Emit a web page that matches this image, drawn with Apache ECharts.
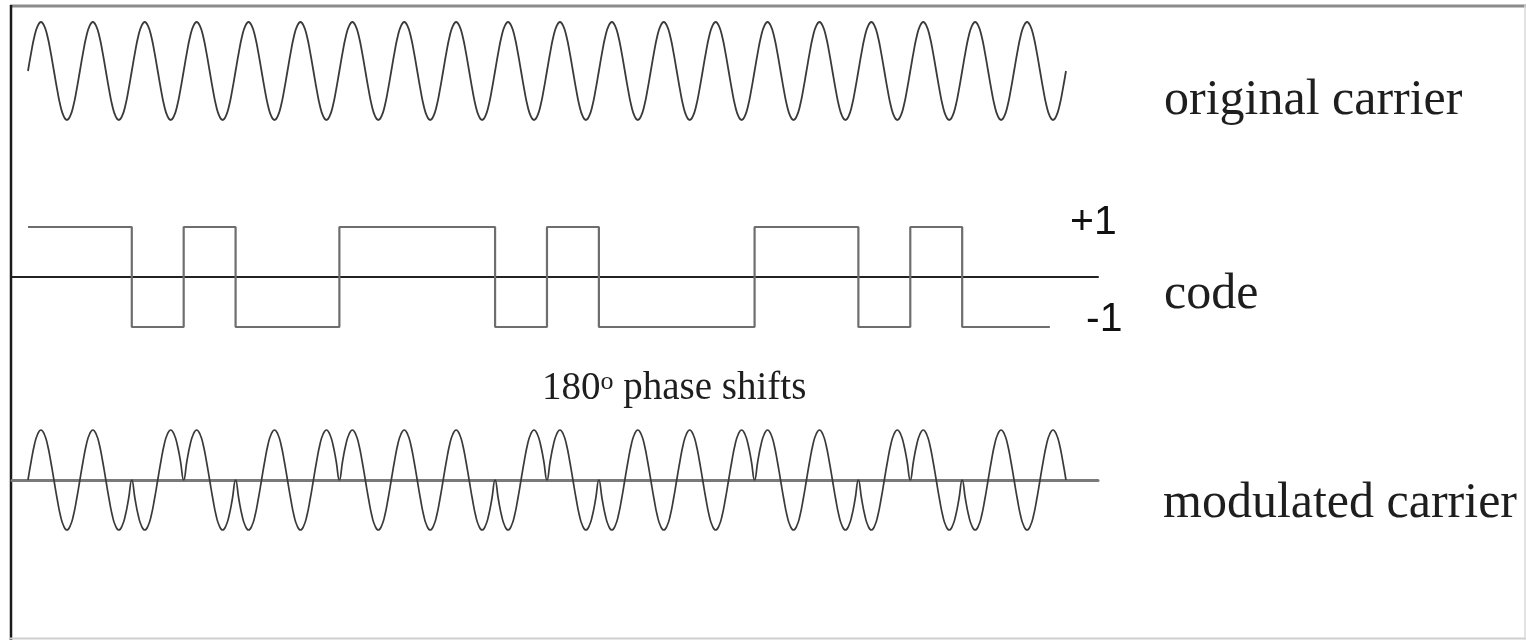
<!DOCTYPE html>
<html>
<head>
<meta charset="utf-8">
<script src="https://cdn.jsdelivr.net/npm/echarts@6/dist/echarts.min.js"></script>
<style>
  html, body { margin: 0; padding: 0; background: #ffffff; }
  #chart { width: 1526px; height: 640px; }
</style>
</head>
<body>
<div id="chart"></div>
<script>
// ---- data ----
// number of carrier periods shown (one code chip = one carrier period)
const cycles = 20;
// one period of the carrier, sampled at 16 points (normalised amplitude)
const carrierCycle = [0, 0.38, 0.71, 0.92, 1, 0.92, 0.71, 0.38, 0, -0.38, -0.71, -0.92, -1, -0.92, -0.71, -0.38];
// code chips (+1 / -1), one per carrier period
const codeChips = [1, 1, -1, 1, -1, -1, 1, 1, 1, -1, 1, -1, -1, -1, 1, 1, -1, 1, -1, -1];
// where the drawn code line stops (in chip units)
const codeEnd = 19.69;
// texts
const panelLabels = ['original carrier', 'code', 'modulated carrier'];
const levelLabels = ['+1', '-1'];
const shiftLabel = ['180', 'o', ' phase shifts'];

// ---- build series data from the arrays ----
const n = carrierCycle.length;
const carrierData = [];
const modData = [];
for (let i = 0; i < cycles; i++) {
  for (let j = 0; j < n; j++) {
    carrierData.push([i + j / n, carrierCycle[j]]);
    modData.push([i + j / n, carrierCycle[j] * codeChips[i]]);
  }
}
carrierData.push([cycles, carrierCycle[0]]);
modData.push([cycles, carrierCycle[0]]);

const codeData = [];
for (let i = 0; i < codeChips.length; i++) {
  codeData.push([i, codeChips[i]]);
  codeData.push([Math.min(i + 1, codeEnd), codeChips[i]]);
}

const chart = echarts.init(document.getElementById('chart'), null, { renderer: 'canvas' });

const xMin = -0.308, xMax = 20.617;
function xAx(idx, lineColor, lineWidth) {
  return {
    type: 'value', gridIndex: idx, min: xMin, max: xMax,
    axisLine: { show: !!lineColor, onZero: true, lineStyle: { color: lineColor || '#000', width: lineWidth || 1 } },
    axisTick: { show: false }, axisLabel: { show: false }, splitLine: { show: false }
  };
}
function yAx(idx) {
  return {
    type: 'value', gridIndex: idx, min: -1, max: 1,
    axisLine: { show: false }, axisTick: { show: false }, axisLabel: { show: false }, splitLine: { show: false }
  };
}

const serif = '"Liberation Serif", "Times New Roman", serif';
const sans = '"Liberation Sans", Arial, sans-serif';

const option = {
  animation: false,
  backgroundColor: '#ffffff',
  grid: [
    { left: 12, width: 1086, top: 22, height: 98 },
    { left: 12, width: 1086, top: 227, height: 100 },
    { left: 12, width: 1086, top: 430, height: 100 }
  ],
  xAxis: [xAx(0), xAx(1, '#222222', 2), xAx(2, '#7a7a7a', 3)],
  yAxis: [yAx(0), yAx(1), yAx(2)],
  series: [
    {
      name: 'original carrier', type: 'line', xAxisIndex: 0, yAxisIndex: 0,
      data: carrierData, showSymbol: false, smooth: true, clip: false,
      lineStyle: { color: '#3a3a3a', width: 1.8 }
    },
    {
      name: 'code', type: 'line', xAxisIndex: 1, yAxisIndex: 1,
      data: codeData, showSymbol: false, smooth: false, clip: false,
      lineStyle: { color: '#6e6e6e', width: 2.2 }
    },
    {
      name: 'modulated carrier', type: 'line', xAxisIndex: 2, yAxisIndex: 2,
      data: modData, showSymbol: false, smooth: true, clip: false,
      lineStyle: { color: '#3a3a3a', width: 1.7 }
    }
  ],
  graphic: [
    // frame
    { type: 'line', shape: { x1: 10, y1: 6, x2: 1526, y2: 6 }, style: { stroke: '#8c8c8c', lineWidth: 3 } },
    { type: 'line', shape: { x1: 11, y1: 5, x2: 11, y2: 640 }, style: { stroke: '#1a1a1a', lineWidth: 2.5 } },
    { type: 'line', shape: { x1: 10, y1: 638.5, x2: 1526, y2: 638.5 }, style: { stroke: '#cfcfcf', lineWidth: 2 } },
    { type: 'line', shape: { x1: 1525, y1: 5, x2: 1525, y2: 640 }, style: { stroke: '#d8d8d8', lineWidth: 1.5 } },
    // labels
    { type: 'text', x: 1164, y: 101, style: { text: panelLabels[0], font: '50px ' + serif, fill: '#1e1e1e', verticalAlign: 'middle' } },
    { type: 'text', x: 1164, y: 295, style: { text: panelLabels[1], font: '50px ' + serif, fill: '#1e1e1e', verticalAlign: 'middle' } },
    { type: 'text', x: 1163, y: 504, style: { text: panelLabels[2], font: '50px ' + serif, fill: '#1e1e1e', verticalAlign: 'middle' } },
    { type: 'text', x: 1070, y: 223, style: { text: levelLabels[0], font: '41px ' + sans, fill: '#111111', verticalAlign: 'middle' } },
    { type: 'text', x: 1086, y: 320, style: { text: levelLabels[1], font: '41px ' + sans, fill: '#111111', verticalAlign: 'middle' } },
    {
      type: 'text', x: 542, y: 389,
      style: {
        text: '{a|' + shiftLabel[0] + '}{s|' + shiftLabel[1] + '}{a|' + shiftLabel[2] + '}',
        verticalAlign: 'middle',
        rich: {
          a: { fontSize: 39, fontFamily: serif, fill: '#1e1e1e', lineHeight: 39 },
          s: { fontSize: 26, fontFamily: serif, fill: '#1e1e1e', lineHeight: 26, verticalAlign: 'top' }
        }
      }
    }
  ]
};
chart.setOption(option);
</script>
</body>
</html>
